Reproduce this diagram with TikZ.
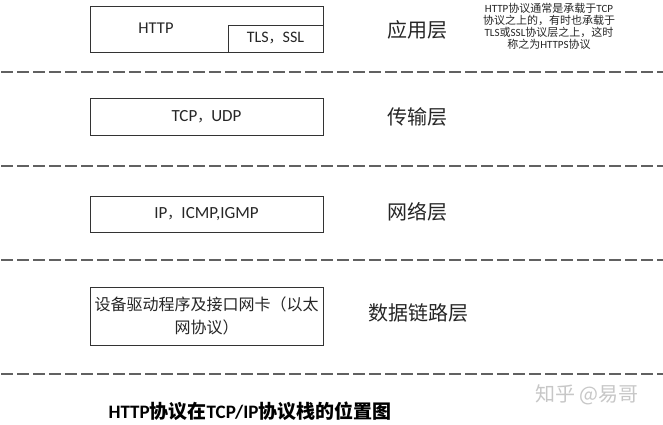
\documentclass[tikz,border=0pt]{standalone}
\usepackage{fontspec}
\setmainfont{Carlito}
\newfontfamily\cjk{Noto Sans CJK SC}
\usetikzlibrary{positioning}

\tikzset{
  layerbox/.style={draw=black!80, line width=0.8pt, fill=white, minimum width=233pt, inner sep=0pt, font=\fontsize{17}{20}\selectfont, text=black!85},
  layername/.style={font=\cjk\fontsize{20}{24}\selectfont, text=black!85},
  sepline/.style={draw=black!62, line width=1.8pt, dash pattern=on 12pt off 4pt},
}

\begin{document}
\begin{tikzpicture}[x=1pt,y=-1pt]
	\useasboundingbox[fill=white] (0,0) rectangle (663,425);
	% layer boxes
	\node[layerbox, minimum height=46pt] (http) at (206.5,29) {};
	\node[layerbox, minimum width=95pt, minimum height=27pt, font=\fontsize{16}{18}\selectfont] (tls) at (275.5,38.5) {TLS{\cjk\fontsize{14}{16}\selectfont ，}SSL};
	\node[font=\fontsize{16.5}{20}\selectfont, text=black!85] (httptxt) at (156,28) {HTTP};
	\node[layerbox, minimum height=37pt] (tcp) at (206.5,116.5) {TCP{\cjk\fontsize{14}{16}\selectfont ，}UDP};
	\node[layerbox, minimum height=36pt] (ip) at (206.5,214) {IP{\cjk\fontsize{14}{16}\selectfont ，}ICMP,IGMP};
	\node[layerbox, minimum height=58pt, align=center, font=\cjk\fontsize{16}{23}\selectfont] (dev) at (206.5,316) {设备驱动程序及接口网卡（以太\\网协议）};
	% layer names
	\node[layername] (app) at (417,30) {应用层};
	\node[layername] (trans) at (417,117) {传输层};
	\node[layername] (net) at (417,212) {网络层};
	\node[layername] (link) at (418,313) {数据链路层};
	% note
	\node[align=center, font=\fontsize{11}{12}\selectfont, text=black!85] (note) at (549,26) {HTTP{\cjk 协议通常是承载于}TCP\\{\cjk 协议之上的，有时也承载于}\\TLS{\cjk 或}SSL{\cjk 协议层之上，这时}\\{\cjk 称之为}HTTPS{\cjk 协议}};
	% separators
	\foreach \y in {72,166,260,374}
		\draw[sepline] (1,\y) -- (663,\y);
	% caption
	\node[font=\bfseries\fontsize{19}{22}\selectfont] (cap) at (250,411) {HTTP{\cjk\bfseries 协议在}TCP/IP{\cjk\bfseries 协议栈的位置图}};
	\node[font=\cjk\fontsize{20}{22}\selectfont, text=black!22] (mark) at (587,395) {知乎 @易哥};
\end{tikzpicture}
\end{document}
